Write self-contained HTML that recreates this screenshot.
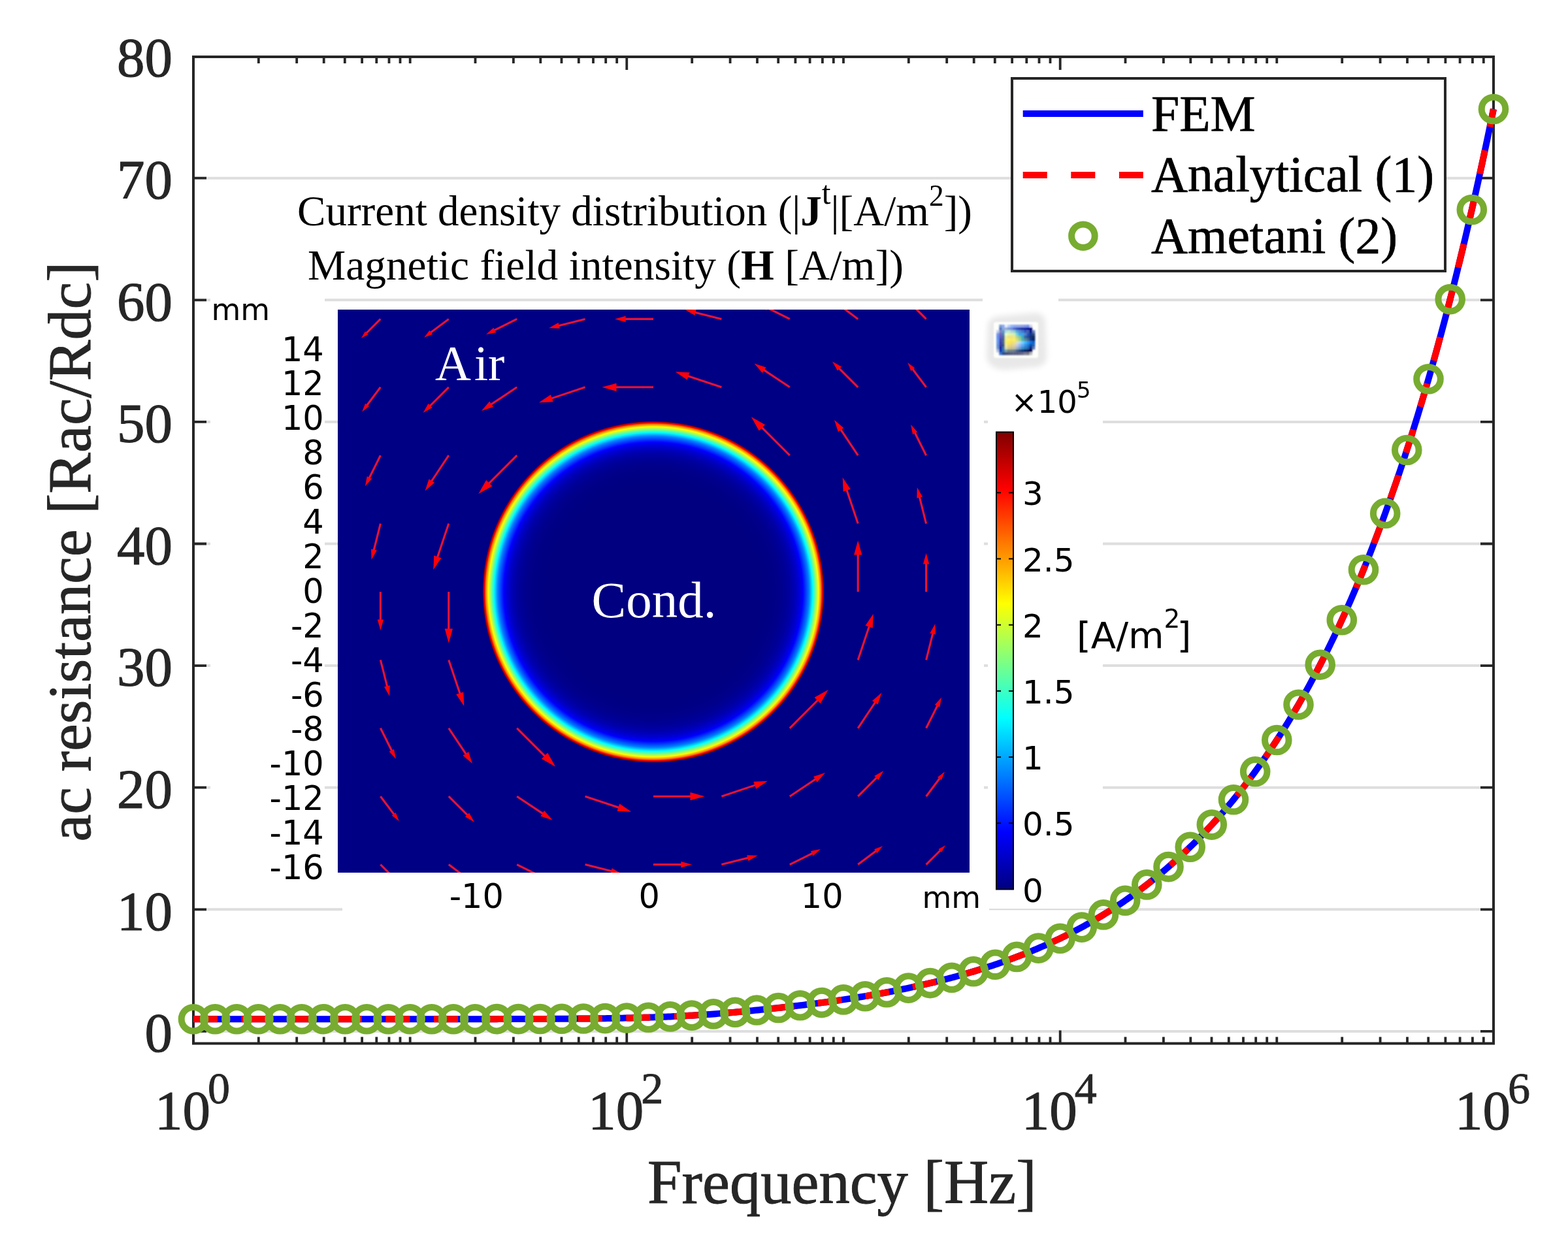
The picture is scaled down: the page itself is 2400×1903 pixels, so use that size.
<!DOCTYPE html><html><head><meta charset="utf-8"><style>html,body{margin:0;padding:0;background:#fff;}svg{display:block}</style></head><body>
<svg width="2400" height="1903" viewBox="0 0 2400 1903">
<rect width="2400" height="1903" fill="#fff"/>
<defs>
<radialGradient id="ring" cx="1000" cy="906" r="261.0" gradientUnits="userSpaceOnUse">
<stop offset="0" stop-color="#000080"/>
<stop offset="0.5421" stop-color="#000080"/>
<stop offset="0.5441" stop-color="#000080"/>
<stop offset="0.5460" stop-color="#000080"/>
<stop offset="0.5479" stop-color="#000080"/>
<stop offset="0.5498" stop-color="#000080"/>
<stop offset="0.5517" stop-color="#000080"/>
<stop offset="0.5536" stop-color="#000080"/>
<stop offset="0.5556" stop-color="#000080"/>
<stop offset="0.5575" stop-color="#000080"/>
<stop offset="0.5594" stop-color="#000080"/>
<stop offset="0.5613" stop-color="#000080"/>
<stop offset="0.5632" stop-color="#000080"/>
<stop offset="0.5651" stop-color="#000080"/>
<stop offset="0.5670" stop-color="#000080"/>
<stop offset="0.5690" stop-color="#000080"/>
<stop offset="0.5709" stop-color="#000080"/>
<stop offset="0.5728" stop-color="#000080"/>
<stop offset="0.5747" stop-color="#000080"/>
<stop offset="0.5766" stop-color="#000080"/>
<stop offset="0.5785" stop-color="#000080"/>
<stop offset="0.5805" stop-color="#000080"/>
<stop offset="0.5824" stop-color="#000080"/>
<stop offset="0.5843" stop-color="#000080"/>
<stop offset="0.5862" stop-color="#000080"/>
<stop offset="0.5881" stop-color="#000080"/>
<stop offset="0.5900" stop-color="#000080"/>
<stop offset="0.5920" stop-color="#000080"/>
<stop offset="0.5939" stop-color="#000080"/>
<stop offset="0.5958" stop-color="#000080"/>
<stop offset="0.5977" stop-color="#000080"/>
<stop offset="0.5996" stop-color="#000081"/>
<stop offset="0.6015" stop-color="#000081"/>
<stop offset="0.6034" stop-color="#000081"/>
<stop offset="0.6054" stop-color="#000081"/>
<stop offset="0.6073" stop-color="#000081"/>
<stop offset="0.6092" stop-color="#000081"/>
<stop offset="0.6111" stop-color="#000081"/>
<stop offset="0.6130" stop-color="#000081"/>
<stop offset="0.6149" stop-color="#000081"/>
<stop offset="0.6169" stop-color="#000081"/>
<stop offset="0.6188" stop-color="#000081"/>
<stop offset="0.6207" stop-color="#000081"/>
<stop offset="0.6226" stop-color="#000081"/>
<stop offset="0.6245" stop-color="#000081"/>
<stop offset="0.6264" stop-color="#000081"/>
<stop offset="0.6284" stop-color="#000081"/>
<stop offset="0.6303" stop-color="#000081"/>
<stop offset="0.6322" stop-color="#000081"/>
<stop offset="0.6341" stop-color="#000081"/>
<stop offset="0.6360" stop-color="#000081"/>
<stop offset="0.6379" stop-color="#000081"/>
<stop offset="0.6398" stop-color="#000082"/>
<stop offset="0.6418" stop-color="#000082"/>
<stop offset="0.6437" stop-color="#000082"/>
<stop offset="0.6456" stop-color="#000082"/>
<stop offset="0.6475" stop-color="#000082"/>
<stop offset="0.6494" stop-color="#000082"/>
<stop offset="0.6513" stop-color="#000082"/>
<stop offset="0.6533" stop-color="#000082"/>
<stop offset="0.6552" stop-color="#000082"/>
<stop offset="0.6571" stop-color="#000082"/>
<stop offset="0.6590" stop-color="#000082"/>
<stop offset="0.6609" stop-color="#000082"/>
<stop offset="0.6628" stop-color="#000083"/>
<stop offset="0.6648" stop-color="#000083"/>
<stop offset="0.6667" stop-color="#000083"/>
<stop offset="0.6686" stop-color="#000083"/>
<stop offset="0.6705" stop-color="#000083"/>
<stop offset="0.6724" stop-color="#000083"/>
<stop offset="0.6743" stop-color="#000083"/>
<stop offset="0.6762" stop-color="#000083"/>
<stop offset="0.6782" stop-color="#000083"/>
<stop offset="0.6801" stop-color="#000084"/>
<stop offset="0.6820" stop-color="#000084"/>
<stop offset="0.6839" stop-color="#000084"/>
<stop offset="0.6858" stop-color="#000084"/>
<stop offset="0.6877" stop-color="#000084"/>
<stop offset="0.6897" stop-color="#000084"/>
<stop offset="0.6916" stop-color="#000085"/>
<stop offset="0.6935" stop-color="#000085"/>
<stop offset="0.6954" stop-color="#000085"/>
<stop offset="0.6973" stop-color="#000085"/>
<stop offset="0.6992" stop-color="#000085"/>
<stop offset="0.7011" stop-color="#000085"/>
<stop offset="0.7031" stop-color="#000086"/>
<stop offset="0.7050" stop-color="#000086"/>
<stop offset="0.7069" stop-color="#000086"/>
<stop offset="0.7088" stop-color="#000086"/>
<stop offset="0.7107" stop-color="#000087"/>
<stop offset="0.7126" stop-color="#000087"/>
<stop offset="0.7146" stop-color="#000087"/>
<stop offset="0.7165" stop-color="#000087"/>
<stop offset="0.7184" stop-color="#000088"/>
<stop offset="0.7203" stop-color="#000088"/>
<stop offset="0.7222" stop-color="#000088"/>
<stop offset="0.7241" stop-color="#000088"/>
<stop offset="0.7261" stop-color="#000089"/>
<stop offset="0.7280" stop-color="#000089"/>
<stop offset="0.7299" stop-color="#000089"/>
<stop offset="0.7318" stop-color="#00008a"/>
<stop offset="0.7337" stop-color="#00008a"/>
<stop offset="0.7356" stop-color="#00008a"/>
<stop offset="0.7375" stop-color="#00008b"/>
<stop offset="0.7395" stop-color="#00008b"/>
<stop offset="0.7414" stop-color="#00008b"/>
<stop offset="0.7433" stop-color="#00008c"/>
<stop offset="0.7452" stop-color="#00008c"/>
<stop offset="0.7471" stop-color="#00008d"/>
<stop offset="0.7490" stop-color="#00008d"/>
<stop offset="0.7510" stop-color="#00008e"/>
<stop offset="0.7529" stop-color="#00008e"/>
<stop offset="0.7548" stop-color="#00008f"/>
<stop offset="0.7567" stop-color="#00008f"/>
<stop offset="0.7586" stop-color="#000090"/>
<stop offset="0.7605" stop-color="#000090"/>
<stop offset="0.7625" stop-color="#000091"/>
<stop offset="0.7644" stop-color="#000091"/>
<stop offset="0.7663" stop-color="#000092"/>
<stop offset="0.7682" stop-color="#000093"/>
<stop offset="0.7701" stop-color="#000093"/>
<stop offset="0.7720" stop-color="#000094"/>
<stop offset="0.7739" stop-color="#000095"/>
<stop offset="0.7759" stop-color="#000095"/>
<stop offset="0.7778" stop-color="#000096"/>
<stop offset="0.7797" stop-color="#000097"/>
<stop offset="0.7816" stop-color="#000098"/>
<stop offset="0.7835" stop-color="#000098"/>
<stop offset="0.7854" stop-color="#000099"/>
<stop offset="0.7874" stop-color="#00009a"/>
<stop offset="0.7893" stop-color="#00009b"/>
<stop offset="0.7912" stop-color="#00009c"/>
<stop offset="0.7931" stop-color="#00009d"/>
<stop offset="0.7950" stop-color="#00009e"/>
<stop offset="0.7969" stop-color="#00009f"/>
<stop offset="0.7989" stop-color="#0000a0"/>
<stop offset="0.8008" stop-color="#0000a1"/>
<stop offset="0.8027" stop-color="#0000a2"/>
<stop offset="0.8046" stop-color="#0000a3"/>
<stop offset="0.8065" stop-color="#0000a5"/>
<stop offset="0.8084" stop-color="#0000a6"/>
<stop offset="0.8103" stop-color="#0000a7"/>
<stop offset="0.8123" stop-color="#0000a9"/>
<stop offset="0.8142" stop-color="#0000aa"/>
<stop offset="0.8161" stop-color="#0000ab"/>
<stop offset="0.8180" stop-color="#0000ad"/>
<stop offset="0.8199" stop-color="#0000ae"/>
<stop offset="0.8218" stop-color="#0000b0"/>
<stop offset="0.8238" stop-color="#0000b2"/>
<stop offset="0.8257" stop-color="#0000b3"/>
<stop offset="0.8276" stop-color="#0000b5"/>
<stop offset="0.8295" stop-color="#0000b7"/>
<stop offset="0.8314" stop-color="#0000b9"/>
<stop offset="0.8333" stop-color="#0000bb"/>
<stop offset="0.8352" stop-color="#0000bd"/>
<stop offset="0.8372" stop-color="#0000bf"/>
<stop offset="0.8391" stop-color="#0000c1"/>
<stop offset="0.8410" stop-color="#0000c3"/>
<stop offset="0.8429" stop-color="#0000c5"/>
<stop offset="0.8448" stop-color="#0000c8"/>
<stop offset="0.8467" stop-color="#0000ca"/>
<stop offset="0.8487" stop-color="#0000cd"/>
<stop offset="0.8506" stop-color="#0000cf"/>
<stop offset="0.8525" stop-color="#0000d2"/>
<stop offset="0.8544" stop-color="#0000d5"/>
<stop offset="0.8563" stop-color="#0000d8"/>
<stop offset="0.8582" stop-color="#0000db"/>
<stop offset="0.8602" stop-color="#0000de"/>
<stop offset="0.8621" stop-color="#0000e1"/>
<stop offset="0.8640" stop-color="#0000e4"/>
<stop offset="0.8659" stop-color="#0000e8"/>
<stop offset="0.8678" stop-color="#0000eb"/>
<stop offset="0.8697" stop-color="#0000ef"/>
<stop offset="0.8716" stop-color="#0000f3"/>
<stop offset="0.8736" stop-color="#0000f7"/>
<stop offset="0.8755" stop-color="#0000fb"/>
<stop offset="0.8774" stop-color="#0000ff"/>
<stop offset="0.8793" stop-color="#0007ff"/>
<stop offset="0.8812" stop-color="#000dff"/>
<stop offset="0.8831" stop-color="#0014ff"/>
<stop offset="0.8851" stop-color="#001bff"/>
<stop offset="0.8870" stop-color="#0022ff"/>
<stop offset="0.8889" stop-color="#0028ff"/>
<stop offset="0.8908" stop-color="#002fff"/>
<stop offset="0.8927" stop-color="#0036ff"/>
<stop offset="0.8946" stop-color="#003cff"/>
<stop offset="0.8966" stop-color="#0043ff"/>
<stop offset="0.8985" stop-color="#004aff"/>
<stop offset="0.9004" stop-color="#0051ff"/>
<stop offset="0.9023" stop-color="#0057ff"/>
<stop offset="0.9042" stop-color="#005eff"/>
<stop offset="0.9061" stop-color="#0065ff"/>
<stop offset="0.9080" stop-color="#006bff"/>
<stop offset="0.9100" stop-color="#0072ff"/>
<stop offset="0.9119" stop-color="#0079ff"/>
<stop offset="0.9138" stop-color="#0080ff"/>
<stop offset="0.9157" stop-color="#008bff"/>
<stop offset="0.9176" stop-color="#0097ff"/>
<stop offset="0.9195" stop-color="#00a2ff"/>
<stop offset="0.9215" stop-color="#00aeff"/>
<stop offset="0.9234" stop-color="#00b9ff"/>
<stop offset="0.9253" stop-color="#00c5ff"/>
<stop offset="0.9272" stop-color="#00d1ff"/>
<stop offset="0.9291" stop-color="#00dcff"/>
<stop offset="0.9310" stop-color="#00e8ff"/>
<stop offset="0.9330" stop-color="#00f3ff"/>
<stop offset="0.9349" stop-color="#00ffff"/>
<stop offset="0.9368" stop-color="#0efff1"/>
<stop offset="0.9387" stop-color="#1dffe2"/>
<stop offset="0.9406" stop-color="#2bffd4"/>
<stop offset="0.9425" stop-color="#3affc5"/>
<stop offset="0.9444" stop-color="#48ffb7"/>
<stop offset="0.9464" stop-color="#57ffa8"/>
<stop offset="0.9483" stop-color="#65ff9a"/>
<stop offset="0.9502" stop-color="#74ff8b"/>
<stop offset="0.9521" stop-color="#82ff7d"/>
<stop offset="0.9540" stop-color="#91ff6e"/>
<stop offset="0.9559" stop-color="#9fff60"/>
<stop offset="0.9579" stop-color="#aeff51"/>
<stop offset="0.9598" stop-color="#bcff43"/>
<stop offset="0.9617" stop-color="#cbff34"/>
<stop offset="0.9636" stop-color="#d9ff26"/>
<stop offset="0.9655" stop-color="#e8ff17"/>
<stop offset="0.9674" stop-color="#f6ff09"/>
<stop offset="0.9693" stop-color="#fff800"/>
<stop offset="0.9713" stop-color="#ffe600"/>
<stop offset="0.9732" stop-color="#ffd500"/>
<stop offset="0.9751" stop-color="#ffc300"/>
<stop offset="0.9770" stop-color="#ffb100"/>
<stop offset="0.9789" stop-color="#ff9f00"/>
<stop offset="0.9808" stop-color="#ff8e00"/>
<stop offset="0.9828" stop-color="#ff7900"/>
<stop offset="0.9847" stop-color="#ff5900"/>
<stop offset="0.9866" stop-color="#ff3900"/>
<stop offset="0.9885" stop-color="#ff1a00"/>
<stop offset="0.9904" stop-color="#f90000"/>
<stop offset="0.9923" stop-color="#db0000"/>
<stop offset="0.9943" stop-color="#bc0000"/>
<stop offset="0.9962" stop-color="#9e0000"/>
<stop offset="0.9981" stop-color="#8f0000"/>
<stop offset="1.0000" stop-color="#800000"/>
</radialGradient>
<linearGradient id="cbar" x1="0" y1="1" x2="0" y2="0">
<stop offset="0.0000" stop-color="#000080"/>
<stop offset="0.0312" stop-color="#00009f"/>
<stop offset="0.0625" stop-color="#0000bf"/>
<stop offset="0.0938" stop-color="#0000df"/>
<stop offset="0.1250" stop-color="#0000ff"/>
<stop offset="0.1562" stop-color="#0020ff"/>
<stop offset="0.1875" stop-color="#0040ff"/>
<stop offset="0.2188" stop-color="#0060ff"/>
<stop offset="0.2500" stop-color="#0080ff"/>
<stop offset="0.2812" stop-color="#009fff"/>
<stop offset="0.3125" stop-color="#00bfff"/>
<stop offset="0.3438" stop-color="#00dfff"/>
<stop offset="0.3750" stop-color="#00ffff"/>
<stop offset="0.4062" stop-color="#20ffdf"/>
<stop offset="0.4375" stop-color="#40ffbf"/>
<stop offset="0.4688" stop-color="#60ff9f"/>
<stop offset="0.5000" stop-color="#80ff80"/>
<stop offset="0.5312" stop-color="#9fff60"/>
<stop offset="0.5625" stop-color="#bfff40"/>
<stop offset="0.5938" stop-color="#dfff20"/>
<stop offset="0.6250" stop-color="#ffff00"/>
<stop offset="0.6562" stop-color="#ffdf00"/>
<stop offset="0.6875" stop-color="#ffbf00"/>
<stop offset="0.7188" stop-color="#ff9f00"/>
<stop offset="0.7500" stop-color="#ff8000"/>
<stop offset="0.7812" stop-color="#ff6000"/>
<stop offset="0.8125" stop-color="#ff4000"/>
<stop offset="0.8438" stop-color="#ff2000"/>
<stop offset="0.8750" stop-color="#ff0000"/>
<stop offset="0.9062" stop-color="#df0000"/>
<stop offset="0.9375" stop-color="#bf0000"/>
<stop offset="0.9688" stop-color="#9f0000"/>
<stop offset="1.0000" stop-color="#800000"/>
</linearGradient>
<linearGradient id="logo" x1="0" y1="0" x2="1" y2="0"><stop offset="0" stop-color="#3050c8"/><stop offset="0.12" stop-color="#5a70c0"/><stop offset="0.25" stop-color="#f2e878"/><stop offset="0.45" stop-color="#f0e060"/><stop offset="0.6" stop-color="#9cd0d8"/><stop offset="0.75" stop-color="#3aa0f0"/><stop offset="0.9" stop-color="#1840a8"/><stop offset="1" stop-color="#0a1a70"/></linearGradient>
<filter id="blur1" x="-10%" y="-10%" width="120%" height="120%"><feGaussianBlur stdDeviation="0.9"/></filter>
<filter id="blur4" x="-20%" y="-20%" width="140%" height="140%"><feGaussianBlur stdDeviation="4"/></filter>
<linearGradient id="logov" x1="0" y1="0" x2="0" y2="1"><stop offset="0" stop-color="#ffffff" stop-opacity="0.25"/><stop offset="0.5" stop-color="#ffffff" stop-opacity="0"/><stop offset="1" stop-color="#000040" stop-opacity="0.35"/></linearGradient>
<clipPath id="plotclip"><rect x="517" y="474" width="967" height="862"/></clipPath>
</defs>
<line x1="296" y1="272.7" x2="2286" y2="272.7" stroke="#dedede" stroke-width="4"/>
<line x1="296" y1="459.3" x2="322" y2="459.3" stroke="#dedede" stroke-width="4"/>
<line x1="497" y1="459.3" x2="1504" y2="459.3" stroke="#dedede" stroke-width="4"/>
<line x1="1620" y1="459.3" x2="2286" y2="459.3" stroke="#dedede" stroke-width="4"/>
<line x1="296" y1="645.9" x2="322" y2="645.9" stroke="#dedede" stroke-width="4"/>
<line x1="497" y1="645.9" x2="517" y2="645.9" stroke="#dedede" stroke-width="4"/>
<line x1="1506" y1="645.9" x2="1512" y2="645.9" stroke="#dedede" stroke-width="4"/>
<line x1="1688" y1="645.9" x2="2286" y2="645.9" stroke="#dedede" stroke-width="4"/>
<line x1="296" y1="832.5" x2="322" y2="832.5" stroke="#dedede" stroke-width="4"/>
<line x1="497" y1="832.5" x2="517" y2="832.5" stroke="#dedede" stroke-width="4"/>
<line x1="1506" y1="832.5" x2="1512" y2="832.5" stroke="#dedede" stroke-width="4"/>
<line x1="1688" y1="832.5" x2="2286" y2="832.5" stroke="#dedede" stroke-width="4"/>
<line x1="296" y1="1019.1" x2="322" y2="1019.1" stroke="#dedede" stroke-width="4"/>
<line x1="497" y1="1019.1" x2="517" y2="1019.1" stroke="#dedede" stroke-width="4"/>
<line x1="1506" y1="1019.1" x2="1512" y2="1019.1" stroke="#dedede" stroke-width="4"/>
<line x1="1688" y1="1019.1" x2="2286" y2="1019.1" stroke="#dedede" stroke-width="4"/>
<line x1="296" y1="1205.7" x2="322" y2="1205.7" stroke="#dedede" stroke-width="4"/>
<line x1="497" y1="1205.7" x2="517" y2="1205.7" stroke="#dedede" stroke-width="4"/>
<line x1="1506" y1="1205.7" x2="1512" y2="1205.7" stroke="#dedede" stroke-width="4"/>
<line x1="1688" y1="1205.7" x2="2286" y2="1205.7" stroke="#dedede" stroke-width="4"/>
<line x1="296" y1="1392.3" x2="524" y2="1392.3" stroke="#dedede" stroke-width="4"/>
<line x1="1690" y1="1392.3" x2="2286" y2="1392.3" stroke="#dedede" stroke-width="4"/>
<line x1="296" y1="1578.9" x2="2286" y2="1578.9" stroke="#dedede" stroke-width="4"/>
<line x1="1514" y1="1392.3" x2="1690" y2="1392.3" stroke="#d8d8d8" stroke-width="2"/>
<rect x="517" y="474" width="967" height="862" fill="#000084"/>
<circle cx="1000" cy="906" r="261.0" fill="url(#ring)"/>
<g clip-path="url(#plotclip)">
<line x1="582.4" y1="488.4" x2="559.8" y2="511.0" stroke="#ea1232" stroke-width="3.1"/>
<polygon points="553.0,517.8 558.9,507.3 563.5,511.9" fill="#ff0008"/>
<line x1="582.4" y1="592.8" x2="560.9" y2="621.5" stroke="#ea1232" stroke-width="3.1"/>
<polygon points="554.1,630.5 559.1,617.7 565.0,622.1" fill="#ff0008"/>
<line x1="582.4" y1="697.2" x2="564.6" y2="732.9" stroke="#ea1232" stroke-width="3.1"/>
<polygon points="558.9,744.3 561.8,729.3 569.1,732.9" fill="#ff0008"/>
<line x1="582.4" y1="801.6" x2="571.9" y2="843.4" stroke="#ea1232" stroke-width="3.1"/>
<polygon points="568.6,857.0 568.1,840.4 576.7,842.6" fill="#ff0008"/>
<line x1="582.4" y1="906.0" x2="582.4" y2="950.4" stroke="#ea1232" stroke-width="3.1"/>
<polygon points="582.4,964.9 577.8,948.4 587.0,948.4" fill="#ff0008"/>
<line x1="582.4" y1="1010.4" x2="592.9" y2="1052.2" stroke="#ea1232" stroke-width="3.1"/>
<polygon points="596.2,1065.8 588.1,1051.4 596.7,1049.2" fill="#ff0008"/>
<line x1="582.4" y1="1114.8" x2="600.2" y2="1150.5" stroke="#ea1232" stroke-width="3.1"/>
<polygon points="605.9,1161.9 595.7,1150.5 603.0,1146.9" fill="#ff0008"/>
<line x1="582.4" y1="1219.2" x2="603.9" y2="1247.9" stroke="#ea1232" stroke-width="3.1"/>
<polygon points="610.7,1256.9 599.8,1248.5 605.7,1244.1" fill="#ff0008"/>
<line x1="582.4" y1="1323.6" x2="605.0" y2="1346.2" stroke="#ea1232" stroke-width="3.1"/>
<polygon points="611.8,1353.0 601.3,1347.1 605.9,1342.5" fill="#ff0008"/>
<line x1="686.8" y1="488.4" x2="658.1" y2="509.9" stroke="#ea1232" stroke-width="3.1"/>
<polygon points="649.1,516.7 657.5,505.8 661.9,511.7" fill="#ff0008"/>
<line x1="686.8" y1="592.8" x2="657.1" y2="622.5" stroke="#ea1232" stroke-width="3.1"/>
<polygon points="647.6,632.0 655.5,618.0 661.6,624.1" fill="#ff0008"/>
<line x1="686.8" y1="697.2" x2="659.6" y2="738.0" stroke="#ea1232" stroke-width="3.1"/>
<polygon points="650.6,751.5 656.5,733.5 665.0,739.1" fill="#ff0008"/>
<line x1="686.8" y1="801.6" x2="669.2" y2="854.3" stroke="#ea1232" stroke-width="3.1"/>
<polygon points="663.3,872.2 664.3,850.6 675.4,854.3" fill="#ff0008"/>
<line x1="686.8" y1="906.0" x2="686.8" y2="964.5" stroke="#ea1232" stroke-width="3.1"/>
<polygon points="686.8,984.5 680.7,962.5 692.9,962.5" fill="#ff0008"/>
<line x1="686.8" y1="1010.4" x2="704.4" y2="1063.1" stroke="#ea1232" stroke-width="3.1"/>
<polygon points="710.3,1081.0 698.2,1063.1 709.3,1059.4" fill="#ff0008"/>
<line x1="686.8" y1="1114.8" x2="714.0" y2="1155.6" stroke="#ea1232" stroke-width="3.1"/>
<polygon points="723.0,1169.1 708.6,1156.7 717.1,1151.1" fill="#ff0008"/>
<line x1="686.8" y1="1219.2" x2="716.5" y2="1248.9" stroke="#ea1232" stroke-width="3.1"/>
<polygon points="726.0,1258.4 712.0,1250.5 718.1,1244.4" fill="#ff0008"/>
<line x1="686.8" y1="1323.6" x2="715.5" y2="1345.1" stroke="#ea1232" stroke-width="3.1"/>
<polygon points="724.5,1351.9 711.7,1346.9 716.1,1341.0" fill="#ff0008"/>
<line x1="791.2" y1="488.4" x2="755.5" y2="506.2" stroke="#ea1232" stroke-width="3.1"/>
<polygon points="744.1,511.9 755.5,501.7 759.1,509.0" fill="#ff0008"/>
<line x1="791.2" y1="592.8" x2="750.4" y2="620.0" stroke="#ea1232" stroke-width="3.1"/>
<polygon points="736.9,629.0 749.3,614.6 754.9,623.1" fill="#ff0008"/>
<line x1="791.2" y1="697.2" x2="747.4" y2="741.0" stroke="#ea1232" stroke-width="3.1"/>
<polygon points="732.3,756.1 744.2,735.0 753.4,744.2" fill="#ff0008"/>
<line x1="791.2" y1="1114.8" x2="835.0" y2="1158.6" stroke="#ea1232" stroke-width="3.1"/>
<polygon points="850.1,1173.7 829.0,1161.8 838.2,1152.6" fill="#ff0008"/>
<line x1="791.2" y1="1219.2" x2="832.0" y2="1246.4" stroke="#ea1232" stroke-width="3.1"/>
<polygon points="845.5,1255.4 827.5,1249.5 833.1,1241.0" fill="#ff0008"/>
<line x1="791.2" y1="1323.6" x2="826.9" y2="1341.4" stroke="#ea1232" stroke-width="3.1"/>
<polygon points="838.3,1347.1 823.3,1344.2 826.9,1336.9" fill="#ff0008"/>
<line x1="895.6" y1="488.4" x2="853.8" y2="498.9" stroke="#ea1232" stroke-width="3.1"/>
<polygon points="840.2,502.2 854.6,494.1 856.8,502.7" fill="#ff0008"/>
<line x1="895.6" y1="592.8" x2="842.9" y2="610.4" stroke="#ea1232" stroke-width="3.1"/>
<polygon points="825.0,616.3 842.9,604.2 846.6,615.3" fill="#ff0008"/>
<line x1="895.6" y1="1219.2" x2="948.3" y2="1236.8" stroke="#ea1232" stroke-width="3.1"/>
<polygon points="966.2,1242.7 944.6,1241.7 948.3,1230.6" fill="#ff0008"/>
<line x1="895.6" y1="1323.6" x2="937.4" y2="1334.1" stroke="#ea1232" stroke-width="3.1"/>
<polygon points="951.0,1337.4 934.4,1337.9 936.6,1329.3" fill="#ff0008"/>
<line x1="1000.0" y1="488.4" x2="955.6" y2="488.4" stroke="#ea1232" stroke-width="3.1"/>
<polygon points="941.1,488.4 957.6,483.8 957.6,493.0" fill="#ff0008"/>
<line x1="1000.0" y1="592.8" x2="941.5" y2="592.8" stroke="#ea1232" stroke-width="3.1"/>
<polygon points="921.5,592.8 943.5,586.7 943.5,598.9" fill="#ff0008"/>
<line x1="1000.0" y1="1219.2" x2="1058.5" y2="1219.2" stroke="#ea1232" stroke-width="3.1"/>
<polygon points="1078.5,1219.2 1056.5,1225.3 1056.5,1213.1" fill="#ff0008"/>
<line x1="1000.0" y1="1323.6" x2="1044.4" y2="1323.6" stroke="#ea1232" stroke-width="3.1"/>
<polygon points="1058.9,1323.6 1042.4,1328.2 1042.4,1319.0" fill="#ff0008"/>
<line x1="1104.4" y1="488.4" x2="1062.6" y2="477.9" stroke="#ea1232" stroke-width="3.1"/>
<polygon points="1049.0,474.6 1065.6,474.1 1063.4,482.7" fill="#ff0008"/>
<line x1="1104.4" y1="592.8" x2="1051.7" y2="575.2" stroke="#ea1232" stroke-width="3.1"/>
<polygon points="1033.8,569.3 1055.4,570.3 1051.7,581.4" fill="#ff0008"/>
<line x1="1104.4" y1="1219.2" x2="1157.1" y2="1201.6" stroke="#ea1232" stroke-width="3.1"/>
<polygon points="1175.0,1195.7 1157.1,1207.8 1153.4,1196.7" fill="#ff0008"/>
<line x1="1104.4" y1="1323.6" x2="1146.2" y2="1313.1" stroke="#ea1232" stroke-width="3.1"/>
<polygon points="1159.8,1309.8 1145.4,1317.9 1143.2,1309.3" fill="#ff0008"/>
<line x1="1208.8" y1="488.4" x2="1173.1" y2="470.6" stroke="#ea1232" stroke-width="3.1"/>
<polygon points="1161.7,464.9 1176.7,467.8 1173.1,475.1" fill="#ff0008"/>
<line x1="1208.8" y1="592.8" x2="1168.0" y2="565.6" stroke="#ea1232" stroke-width="3.1"/>
<polygon points="1154.5,556.6 1172.5,562.5 1166.9,571.0" fill="#ff0008"/>
<line x1="1208.8" y1="697.2" x2="1165.0" y2="653.4" stroke="#ea1232" stroke-width="3.1"/>
<polygon points="1149.9,638.3 1171.0,650.2 1161.8,659.4" fill="#ff0008"/>
<line x1="1208.8" y1="1114.8" x2="1252.6" y2="1071.0" stroke="#ea1232" stroke-width="3.1"/>
<polygon points="1267.7,1055.9 1255.8,1077.0 1246.6,1067.8" fill="#ff0008"/>
<line x1="1208.8" y1="1219.2" x2="1249.6" y2="1192.0" stroke="#ea1232" stroke-width="3.1"/>
<polygon points="1263.1,1183.0 1250.7,1197.4 1245.1,1188.9" fill="#ff0008"/>
<line x1="1208.8" y1="1323.6" x2="1244.5" y2="1305.8" stroke="#ea1232" stroke-width="3.1"/>
<polygon points="1255.9,1300.1 1244.5,1310.3 1240.9,1303.0" fill="#ff0008"/>
<line x1="1313.2" y1="488.4" x2="1284.5" y2="466.9" stroke="#ea1232" stroke-width="3.1"/>
<polygon points="1275.5,460.1 1288.3,465.1 1283.9,471.0" fill="#ff0008"/>
<line x1="1313.2" y1="592.8" x2="1283.5" y2="563.1" stroke="#ea1232" stroke-width="3.1"/>
<polygon points="1274.0,553.6 1288.0,561.5 1281.9,567.6" fill="#ff0008"/>
<line x1="1313.2" y1="697.2" x2="1286.0" y2="656.4" stroke="#ea1232" stroke-width="3.1"/>
<polygon points="1277.0,642.9 1291.4,655.3 1282.9,660.9" fill="#ff0008"/>
<line x1="1313.2" y1="801.6" x2="1295.6" y2="748.9" stroke="#ea1232" stroke-width="3.1"/>
<polygon points="1289.7,731.0 1301.8,748.9 1290.7,752.6" fill="#ff0008"/>
<line x1="1313.2" y1="906.0" x2="1313.2" y2="847.5" stroke="#ea1232" stroke-width="3.1"/>
<polygon points="1313.2,827.5 1319.3,849.5 1307.1,849.5" fill="#ff0008"/>
<line x1="1313.2" y1="1010.4" x2="1330.8" y2="957.7" stroke="#ea1232" stroke-width="3.1"/>
<polygon points="1336.7,939.8 1335.7,961.4 1324.6,957.7" fill="#ff0008"/>
<line x1="1313.2" y1="1114.8" x2="1340.4" y2="1074.0" stroke="#ea1232" stroke-width="3.1"/>
<polygon points="1349.4,1060.5 1343.5,1078.5 1335.0,1072.9" fill="#ff0008"/>
<line x1="1313.2" y1="1219.2" x2="1342.9" y2="1189.5" stroke="#ea1232" stroke-width="3.1"/>
<polygon points="1352.4,1180.0 1344.5,1194.0 1338.4,1187.9" fill="#ff0008"/>
<line x1="1313.2" y1="1323.6" x2="1341.9" y2="1302.1" stroke="#ea1232" stroke-width="3.1"/>
<polygon points="1350.9,1295.3 1342.5,1306.2 1338.1,1300.3" fill="#ff0008"/>
<line x1="1417.6" y1="488.4" x2="1395.0" y2="465.8" stroke="#ea1232" stroke-width="3.1"/>
<polygon points="1388.2,459.0 1398.7,464.9 1394.1,469.5" fill="#ff0008"/>
<line x1="1417.6" y1="592.8" x2="1396.1" y2="564.1" stroke="#ea1232" stroke-width="3.1"/>
<polygon points="1389.3,555.1 1400.2,563.5 1394.3,567.9" fill="#ff0008"/>
<line x1="1417.6" y1="697.2" x2="1399.8" y2="661.5" stroke="#ea1232" stroke-width="3.1"/>
<polygon points="1394.1,650.1 1404.3,661.5 1397.0,665.1" fill="#ff0008"/>
<line x1="1417.6" y1="801.6" x2="1407.1" y2="759.8" stroke="#ea1232" stroke-width="3.1"/>
<polygon points="1403.8,746.2 1411.9,760.6 1403.3,762.8" fill="#ff0008"/>
<line x1="1417.6" y1="906.0" x2="1417.6" y2="861.6" stroke="#ea1232" stroke-width="3.1"/>
<polygon points="1417.6,847.1 1422.2,863.6 1413.0,863.6" fill="#ff0008"/>
<line x1="1417.6" y1="1010.4" x2="1428.1" y2="968.6" stroke="#ea1232" stroke-width="3.1"/>
<polygon points="1431.4,955.0 1431.9,971.6 1423.3,969.4" fill="#ff0008"/>
<line x1="1417.6" y1="1114.8" x2="1435.4" y2="1079.1" stroke="#ea1232" stroke-width="3.1"/>
<polygon points="1441.1,1067.7 1438.2,1082.7 1430.9,1079.1" fill="#ff0008"/>
<line x1="1417.6" y1="1219.2" x2="1439.1" y2="1190.5" stroke="#ea1232" stroke-width="3.1"/>
<polygon points="1445.9,1181.5 1440.9,1194.3 1435.0,1189.9" fill="#ff0008"/>
<line x1="1417.6" y1="1323.6" x2="1440.2" y2="1301.0" stroke="#ea1232" stroke-width="3.1"/>
<polygon points="1447.0,1294.2 1441.1,1304.7 1436.5,1300.1" fill="#ff0008"/>
</g>
<text x="666" y="582" font-family="Liberation Serif" font-size="76" fill="#fff">A<tspan dx="5">ir</tspan></text>
<text x="905.5" y="945.3" font-family="Liberation Serif" font-size="79" fill="#fff">Cond.</text>
<text x="495.8" y="552.5" font-family="DejaVu Sans" font-size="51" text-anchor="end" fill="#000">14</text>
<text x="495.8" y="605.4" font-family="DejaVu Sans" font-size="51" text-anchor="end" fill="#000">12</text>
<text x="495.8" y="658.3" font-family="DejaVu Sans" font-size="51" text-anchor="end" fill="#000">10</text>
<text x="495.8" y="711.2" font-family="DejaVu Sans" font-size="51" text-anchor="end" fill="#000">8</text>
<text x="495.8" y="764.1" font-family="DejaVu Sans" font-size="51" text-anchor="end" fill="#000">6</text>
<text x="495.8" y="817.0" font-family="DejaVu Sans" font-size="51" text-anchor="end" fill="#000">4</text>
<text x="495.8" y="869.9" font-family="DejaVu Sans" font-size="51" text-anchor="end" fill="#000">2</text>
<text x="495.8" y="922.8" font-family="DejaVu Sans" font-size="51" text-anchor="end" fill="#000">0</text>
<text x="495.8" y="975.7" font-family="DejaVu Sans" font-size="51" text-anchor="end" fill="#000">-2</text>
<text x="495.8" y="1028.6" font-family="DejaVu Sans" font-size="51" text-anchor="end" fill="#000">-4</text>
<text x="495.8" y="1081.5" font-family="DejaVu Sans" font-size="51" text-anchor="end" fill="#000">-6</text>
<text x="495.8" y="1134.4" font-family="DejaVu Sans" font-size="51" text-anchor="end" fill="#000">-8</text>
<text x="495.8" y="1187.3" font-family="DejaVu Sans" font-size="51" text-anchor="end" fill="#000">-10</text>
<text x="495.8" y="1240.2" font-family="DejaVu Sans" font-size="51" text-anchor="end" fill="#000">-12</text>
<text x="495.8" y="1293.1" font-family="DejaVu Sans" font-size="51" text-anchor="end" fill="#000">-14</text>
<text x="495.8" y="1346.0" font-family="DejaVu Sans" font-size="51" text-anchor="end" fill="#000">-16</text>
<text x="729.3" y="1389.8" font-family="DejaVu Sans" font-size="51" text-anchor="middle" fill="#000">-10</text>
<text x="993.8" y="1389.8" font-family="DejaVu Sans" font-size="51" text-anchor="middle" fill="#000">0</text>
<text x="1258.3" y="1389.8" font-family="DejaVu Sans" font-size="51" text-anchor="middle" fill="#000">10</text>
<text x="323.5" y="490" font-family="DejaVu Sans" font-size="46" fill="#000">mm</text>
<text x="1411.5" y="1390" font-family="DejaVu Sans" font-size="46" fill="#000">mm</text>
<rect x="1525" y="661.5" width="26" height="700" fill="url(#cbar)" stroke="#000" stroke-width="2"/>
<text x="1565" y="1380.5" font-family="DejaVu Sans" font-size="50" fill="#000">0</text>
<line x1="1526" y1="1260.3" x2="1532" y2="1260.3" stroke="#000" stroke-width="2"/>
<line x1="1544" y1="1260.3" x2="1550" y2="1260.3" stroke="#000" stroke-width="2"/>
<text x="1565" y="1279.3" font-family="DejaVu Sans" font-size="50" fill="#000">0.5</text>
<line x1="1526" y1="1159.1" x2="1532" y2="1159.1" stroke="#000" stroke-width="2"/>
<line x1="1544" y1="1159.1" x2="1550" y2="1159.1" stroke="#000" stroke-width="2"/>
<text x="1565" y="1178.1" font-family="DejaVu Sans" font-size="50" fill="#000">1</text>
<line x1="1526" y1="1057.9" x2="1532" y2="1057.9" stroke="#000" stroke-width="2"/>
<line x1="1544" y1="1057.9" x2="1550" y2="1057.9" stroke="#000" stroke-width="2"/>
<text x="1565" y="1076.9" font-family="DejaVu Sans" font-size="50" fill="#000">1.5</text>
<line x1="1526" y1="956.7" x2="1532" y2="956.7" stroke="#000" stroke-width="2"/>
<line x1="1544" y1="956.7" x2="1550" y2="956.7" stroke="#000" stroke-width="2"/>
<text x="1565" y="975.7" font-family="DejaVu Sans" font-size="50" fill="#000">2</text>
<line x1="1526" y1="855.5" x2="1532" y2="855.5" stroke="#000" stroke-width="2"/>
<line x1="1544" y1="855.5" x2="1550" y2="855.5" stroke="#000" stroke-width="2"/>
<text x="1565" y="874.5" font-family="DejaVu Sans" font-size="50" fill="#000">2.5</text>
<line x1="1526" y1="754.3" x2="1532" y2="754.3" stroke="#000" stroke-width="2"/>
<line x1="1544" y1="754.3" x2="1550" y2="754.3" stroke="#000" stroke-width="2"/>
<text x="1565" y="773.3" font-family="DejaVu Sans" font-size="50" fill="#000">3</text>
<text x="1547.5" y="632" font-family="DejaVu Sans" font-size="48" fill="#000">×10</text><text x="1648" y="608.5" font-family="DejaVu Sans" font-size="34" fill="#000">5</text>
<text x="1648" y="992" font-family="DejaVu Sans" font-size="56" fill="#000">[A/m<tspan font-size="39" dy="-31">2</tspan><tspan dy="31" dx="-5">]</tspan></text>
<path d="M1512 500 Q1512 486 1530 484 L1585 479 Q1600 480 1600 495 L1602 540 Q1604 560 1585 562 L1540 566 Q1512 566 1510 545 Z" fill="#e8e8e8" filter="url(#blur4)"/>
<rect x="1521" y="493" width="68" height="55" rx="3" fill="#fefefa" filter="url(#blur1)"/>
<g filter="url(#blur1)"><rect x="1529.31" y="497.00" width="4.51" height="4.51" fill="#7a9ad0"/><rect x="1533.52" y="497.00" width="4.51" height="4.51" fill="#8aa8f0"/><rect x="1537.73" y="497.00" width="4.51" height="4.51" fill="#e8f0ff"/><rect x="1541.94" y="497.00" width="4.51" height="4.51" fill="#b8d0ff"/><rect x="1546.15" y="497.00" width="4.51" height="4.51" fill="#90b8f8"/><rect x="1550.36" y="497.00" width="4.51" height="4.51" fill="#88a8f8"/><rect x="1554.57" y="497.00" width="4.51" height="4.51" fill="#90a8e8"/><rect x="1558.78" y="497.00" width="4.51" height="4.51" fill="#90a8e8"/><rect x="1562.99" y="497.00" width="4.51" height="4.51" fill="#90a0e8"/><rect x="1567.20" y="497.00" width="4.51" height="4.51" fill="#8098e8"/><rect x="1571.41" y="497.00" width="4.51" height="4.51" fill="#7090f0"/><rect x="1575.62" y="497.00" width="4.51" height="4.51" fill="#d0d8f0"/><rect x="1529.31" y="501.21" width="4.51" height="4.51" fill="#4070c0"/><rect x="1533.52" y="501.21" width="4.51" height="4.51" fill="#88a8d8"/><rect x="1537.73" y="501.21" width="4.51" height="4.51" fill="#98a8e0"/><rect x="1541.94" y="501.21" width="4.51" height="4.51" fill="#7898d0"/><rect x="1546.15" y="501.21" width="4.51" height="4.51" fill="#6888d8"/><rect x="1550.36" y="501.21" width="4.51" height="4.51" fill="#5060c8"/><rect x="1554.57" y="501.21" width="4.51" height="4.51" fill="#3048c0"/><rect x="1558.78" y="501.21" width="4.51" height="4.51" fill="#2038b0"/><rect x="1562.99" y="501.21" width="4.51" height="4.51" fill="#1828a0"/><rect x="1567.20" y="501.21" width="4.51" height="4.51" fill="#0818a0"/><rect x="1571.41" y="501.21" width="4.51" height="4.51" fill="#0000a0"/><rect x="1575.62" y="501.21" width="4.51" height="4.51" fill="#000080"/><rect x="1525.10" y="505.42" width="4.51" height="4.51" fill="#c0d0f0"/><rect x="1529.31" y="505.42" width="4.51" height="4.51" fill="#8080c0"/><rect x="1533.52" y="505.42" width="4.51" height="4.51" fill="#5898c8"/><rect x="1537.73" y="505.42" width="4.51" height="4.51" fill="#b0e0e0"/><rect x="1541.94" y="505.42" width="4.51" height="4.51" fill="#c0e8d0"/><rect x="1546.15" y="505.42" width="4.51" height="4.51" fill="#a8d0e0"/><rect x="1550.36" y="505.42" width="4.51" height="4.51" fill="#88d0d0"/><rect x="1554.57" y="505.42" width="4.51" height="4.51" fill="#48a8e0"/><rect x="1558.78" y="505.42" width="4.51" height="4.51" fill="#5888d0"/><rect x="1562.99" y="505.42" width="4.51" height="4.51" fill="#3878d0"/><rect x="1567.20" y="505.42" width="4.51" height="4.51" fill="#2850c8"/><rect x="1571.41" y="505.42" width="4.51" height="4.51" fill="#4060a0"/><rect x="1575.62" y="505.42" width="4.51" height="4.51" fill="#000080"/><rect x="1579.83" y="505.42" width="4.51" height="4.51" fill="#6080c0"/><rect x="1525.10" y="509.63" width="4.51" height="4.51" fill="#7098e8"/><rect x="1529.31" y="509.63" width="4.51" height="4.51" fill="#7060c0"/><rect x="1533.52" y="509.63" width="4.51" height="4.51" fill="#5080b0"/><rect x="1537.73" y="509.63" width="4.51" height="4.51" fill="#e8ffd0"/><rect x="1541.94" y="509.63" width="4.51" height="4.51" fill="#e0f8b0"/><rect x="1546.15" y="509.63" width="4.51" height="4.51" fill="#e0f0a0"/><rect x="1550.36" y="509.63" width="4.51" height="4.51" fill="#c8f0b8"/><rect x="1554.57" y="509.63" width="4.51" height="4.51" fill="#70d0d8"/><rect x="1558.78" y="509.63" width="4.51" height="4.51" fill="#38a8f0"/><rect x="1562.99" y="509.63" width="4.51" height="4.51" fill="#40a0e8"/><rect x="1567.20" y="509.63" width="4.51" height="4.51" fill="#5080c0"/><rect x="1571.41" y="509.63" width="4.51" height="4.51" fill="#2050c0"/><rect x="1575.62" y="509.63" width="4.51" height="4.51" fill="#103890"/><rect x="1579.83" y="509.63" width="4.51" height="4.51" fill="#304880"/><rect x="1525.10" y="513.84" width="4.51" height="4.51" fill="#6090f0"/><rect x="1529.31" y="513.84" width="4.51" height="4.51" fill="#6050c0"/><rect x="1533.52" y="513.84" width="4.51" height="4.51" fill="#4868a0"/><rect x="1537.73" y="513.84" width="4.51" height="4.51" fill="#e8f0a0"/><rect x="1541.94" y="513.84" width="4.51" height="4.51" fill="#f0e080"/><rect x="1546.15" y="513.84" width="4.51" height="4.51" fill="#f0e080"/><rect x="1550.36" y="513.84" width="4.51" height="4.51" fill="#e8e880"/><rect x="1554.57" y="513.84" width="4.51" height="4.51" fill="#b8d090"/><rect x="1558.78" y="513.84" width="4.51" height="4.51" fill="#78c8a0"/><rect x="1562.99" y="513.84" width="4.51" height="4.51" fill="#40a8c0"/><rect x="1567.20" y="513.84" width="4.51" height="4.51" fill="#2860b0"/><rect x="1571.41" y="513.84" width="4.51" height="4.51" fill="#204890"/><rect x="1575.62" y="513.84" width="4.51" height="4.51" fill="#183070"/><rect x="1579.83" y="513.84" width="4.51" height="4.51" fill="#102860"/><rect x="1525.10" y="518.05" width="4.51" height="4.51" fill="#6098f8"/><rect x="1529.31" y="518.05" width="4.51" height="4.51" fill="#4040b0"/><rect x="1533.52" y="518.05" width="4.51" height="4.51" fill="#406090"/><rect x="1537.73" y="518.05" width="4.51" height="4.51" fill="#f0f080"/><rect x="1541.94" y="518.05" width="4.51" height="4.51" fill="#fff060"/><rect x="1546.15" y="518.05" width="4.51" height="4.51" fill="#f8e858"/><rect x="1550.36" y="518.05" width="4.51" height="4.51" fill="#f8f060"/><rect x="1554.57" y="518.05" width="4.51" height="4.51" fill="#d8e060"/><rect x="1558.78" y="518.05" width="4.51" height="4.51" fill="#a0d080"/><rect x="1562.99" y="518.05" width="4.51" height="4.51" fill="#50b0a0"/><rect x="1567.20" y="518.05" width="4.51" height="4.51" fill="#508890"/><rect x="1571.41" y="518.05" width="4.51" height="4.51" fill="#406880"/><rect x="1575.62" y="518.05" width="4.51" height="4.51" fill="#103090"/><rect x="1579.83" y="518.05" width="4.51" height="4.51" fill="#002060"/><rect x="1525.10" y="522.26" width="4.51" height="4.51" fill="#6098f0"/><rect x="1529.31" y="522.26" width="4.51" height="4.51" fill="#3030a0"/><rect x="1533.52" y="522.26" width="4.51" height="4.51" fill="#406090"/><rect x="1537.73" y="522.26" width="4.51" height="4.51" fill="#f0f070"/><rect x="1541.94" y="522.26" width="4.51" height="4.51" fill="#ffe850"/><rect x="1546.15" y="522.26" width="4.51" height="4.51" fill="#f0e060"/><rect x="1550.36" y="522.26" width="4.51" height="4.51" fill="#e8e080"/><rect x="1554.57" y="522.26" width="4.51" height="4.51" fill="#d8e0c0"/><rect x="1558.78" y="522.26" width="4.51" height="4.51" fill="#b0d8f8"/><rect x="1562.99" y="522.26" width="4.51" height="4.51" fill="#70d0ff"/><rect x="1567.20" y="522.26" width="4.51" height="4.51" fill="#38b8ff"/><rect x="1571.41" y="522.26" width="4.51" height="4.51" fill="#2090ff"/><rect x="1575.62" y="522.26" width="4.51" height="4.51" fill="#1070e0"/><rect x="1579.83" y="522.26" width="4.51" height="4.51" fill="#0060d0"/><rect x="1525.10" y="526.47" width="4.51" height="4.51" fill="#6090e0"/><rect x="1529.31" y="526.47" width="4.51" height="4.51" fill="#3030a0"/><rect x="1533.52" y="526.47" width="4.51" height="4.51" fill="#305080"/><rect x="1537.73" y="526.47" width="4.51" height="4.51" fill="#f0e8a0"/><rect x="1541.94" y="526.47" width="4.51" height="4.51" fill="#f0d870"/><rect x="1546.15" y="526.47" width="4.51" height="4.51" fill="#e8d070"/><rect x="1550.36" y="526.47" width="4.51" height="4.51" fill="#e0d0a0"/><rect x="1554.57" y="526.47" width="4.51" height="4.51" fill="#c8c8e0"/><rect x="1558.78" y="526.47" width="4.51" height="4.51" fill="#90b8f8"/><rect x="1562.99" y="526.47" width="4.51" height="4.51" fill="#60a8f8"/><rect x="1567.20" y="526.47" width="4.51" height="4.51" fill="#3090e8"/><rect x="1571.41" y="526.47" width="4.51" height="4.51" fill="#1878d0"/><rect x="1575.62" y="526.47" width="4.51" height="4.51" fill="#0050b0"/><rect x="1579.83" y="526.47" width="4.51" height="4.51" fill="#2060b0"/><rect x="1525.10" y="530.68" width="4.51" height="4.51" fill="#7098d0"/><rect x="1529.31" y="530.68" width="4.51" height="4.51" fill="#1818a0"/><rect x="1533.52" y="530.68" width="4.51" height="4.51" fill="#3070b0"/><rect x="1537.73" y="530.68" width="4.51" height="4.51" fill="#d8e0b0"/><rect x="1541.94" y="530.68" width="4.51" height="4.51" fill="#d0c890"/><rect x="1546.15" y="530.68" width="4.51" height="4.51" fill="#c8c090"/><rect x="1550.36" y="530.68" width="4.51" height="4.51" fill="#c0c0a8"/><rect x="1554.57" y="530.68" width="4.51" height="4.51" fill="#a0b0c0"/><rect x="1558.78" y="530.68" width="4.51" height="4.51" fill="#70a0d0"/><rect x="1562.99" y="530.68" width="4.51" height="4.51" fill="#3890d0"/><rect x="1567.20" y="530.68" width="4.51" height="4.51" fill="#2878c0"/><rect x="1571.41" y="530.68" width="4.51" height="4.51" fill="#2060b0"/><rect x="1575.62" y="530.68" width="4.51" height="4.51" fill="#001870"/><rect x="1579.83" y="530.68" width="4.51" height="4.51" fill="#6078b0"/><rect x="1525.10" y="534.89" width="4.51" height="4.51" fill="#b0c0e0"/><rect x="1529.31" y="534.89" width="4.51" height="4.51" fill="#0030b0"/><rect x="1533.52" y="534.89" width="4.51" height="4.51" fill="#3070b0"/><rect x="1537.73" y="534.89" width="4.51" height="4.51" fill="#80a0a0"/><rect x="1541.94" y="534.89" width="4.51" height="4.51" fill="#708080"/><rect x="1546.15" y="534.89" width="4.51" height="4.51" fill="#708080"/><rect x="1550.36" y="534.89" width="4.51" height="4.51" fill="#687888"/><rect x="1554.57" y="534.89" width="4.51" height="4.51" fill="#406090"/><rect x="1558.78" y="534.89" width="4.51" height="4.51" fill="#204880"/><rect x="1562.99" y="534.89" width="4.51" height="4.51" fill="#103070"/><rect x="1567.20" y="534.89" width="4.51" height="4.51" fill="#001860"/><rect x="1571.41" y="534.89" width="4.51" height="4.51" fill="#000850"/><rect x="1575.62" y="534.89" width="4.51" height="4.51" fill="#000040"/><rect x="1529.31" y="539.10" width="4.51" height="4.51" fill="#3070c8"/><rect x="1533.52" y="539.10" width="4.51" height="4.51" fill="#284888"/><rect x="1537.73" y="539.10" width="4.51" height="4.51" fill="#404878"/><rect x="1541.94" y="539.10" width="4.51" height="4.51" fill="#485078"/><rect x="1546.15" y="539.10" width="4.51" height="4.51" fill="#505880"/><rect x="1550.36" y="539.10" width="4.51" height="4.51" fill="#585880"/><rect x="1554.57" y="539.10" width="4.51" height="4.51" fill="#585880"/><rect x="1558.78" y="539.10" width="4.51" height="4.51" fill="#606080"/><rect x="1562.99" y="539.10" width="4.51" height="4.51" fill="#686888"/><rect x="1567.20" y="539.10" width="4.51" height="4.51" fill="#787890"/><rect x="1571.41" y="539.10" width="4.51" height="4.51" fill="#707080"/><rect x="1575.62" y="539.10" width="4.51" height="4.51" fill="#b8b8c0"/></g>
<text x="455" y="345.4" font-family="Liberation Serif" font-size="66" fill="#000" textLength="1033" lengthAdjust="spacingAndGlyphs">Current density distribution (|<tspan font-weight="bold">J</tspan><tspan font-size="50" dy="-33">t</tspan><tspan dy="33">|[A/m</tspan><tspan font-size="46" dy="-30">2</tspan><tspan dy="30">])</tspan></text>
<text x="471" y="427.7" font-family="Liberation Serif" font-size="66" fill="#000" textLength="912" lengthAdjust="spacingAndGlyphs">Magnetic field intensity (<tspan font-weight="bold">H</tspan> [A/m])</text>
<rect x="296" y="87" width="1990" height="1510.5" fill="none" stroke="#262626" stroke-width="4"/>
<path d="M296 1578.9h20M2286 1578.9h-20M296 1392.3h20M2286 1392.3h-20M296 1205.7h20M2286 1205.7h-20M296 1019.1h20M2286 1019.1h-20M296 832.5h20M2286 832.5h-20M296 645.9h20M2286 645.9h-20M296 459.3h20M2286 459.3h-20M296 272.7h20M2286 272.7h-20M296.0 1597.5v-20M296.0 87v20M395.8 1597.5v-10M395.8 87v10M454.2 1597.5v-10M454.2 87v10M495.7 1597.5v-10M495.7 87v10M527.8 1597.5v-10M527.8 87v10M554.1 1597.5v-10M554.1 87v10M576.3 1597.5v-10M576.3 87v10M595.5 1597.5v-10M595.5 87v10M612.5 1597.5v-10M612.5 87v10M627.7 1597.5v-10M627.7 87v10M727.5 1597.5v-10M727.5 87v10M785.9 1597.5v-10M785.9 87v10M827.3 1597.5v-10M827.3 87v10M859.5 1597.5v-10M859.5 87v10M885.8 1597.5v-10M885.8 87v10M908.0 1597.5v-10M908.0 87v10M927.2 1597.5v-10M927.2 87v10M944.2 1597.5v-10M944.2 87v10M959.3 1597.5v-20M959.3 87v20M1059.2 1597.5v-10M1059.2 87v10M1117.6 1597.5v-10M1117.6 87v10M1159.0 1597.5v-10M1159.0 87v10M1191.2 1597.5v-10M1191.2 87v10M1217.4 1597.5v-10M1217.4 87v10M1239.6 1597.5v-10M1239.6 87v10M1258.9 1597.5v-10M1258.9 87v10M1275.8 1597.5v-10M1275.8 87v10M1291.0 1597.5v-10M1291.0 87v10M1390.8 1597.5v-10M1390.8 87v10M1449.2 1597.5v-10M1449.2 87v10M1490.7 1597.5v-10M1490.7 87v10M1522.8 1597.5v-10M1522.8 87v10M1549.1 1597.5v-10M1549.1 87v10M1571.3 1597.5v-10M1571.3 87v10M1590.5 1597.5v-10M1590.5 87v10M1607.5 1597.5v-10M1607.5 87v10M1622.7 1597.5v-20M1622.7 87v20M1722.5 1597.5v-10M1722.5 87v10M1780.9 1597.5v-10M1780.9 87v10M1822.3 1597.5v-10M1822.3 87v10M1854.5 1597.5v-10M1854.5 87v10M1880.8 1597.5v-10M1880.8 87v10M1903.0 1597.5v-10M1903.0 87v10M1922.2 1597.5v-10M1922.2 87v10M1939.2 1597.5v-10M1939.2 87v10M1954.3 1597.5v-10M1954.3 87v10M2054.2 1597.5v-10M2054.2 87v10M2112.6 1597.5v-10M2112.6 87v10M2154.0 1597.5v-10M2154.0 87v10M2186.2 1597.5v-10M2186.2 87v10M2212.4 1597.5v-10M2212.4 87v10M2234.6 1597.5v-10M2234.6 87v10M2253.9 1597.5v-10M2253.9 87v10M2270.8 1597.5v-10M2270.8 87v10M2286.0 1597.5v-20M2286.0 87v20" stroke="#262626" stroke-width="3.8" fill="none"/>
<polyline points="296.00,1560.24 299.32,1560.24 302.63,1560.24 305.95,1560.24 309.27,1560.24 312.58,1560.24 315.90,1560.24 319.22,1560.24 322.53,1560.24 325.85,1560.24 329.17,1560.24 332.48,1560.24 335.80,1560.24 339.12,1560.24 342.43,1560.24 345.75,1560.24 349.07,1560.24 352.38,1560.24 355.70,1560.24 359.02,1560.24 362.33,1560.24 365.65,1560.24 368.97,1560.24 372.28,1560.24 375.60,1560.24 378.92,1560.24 382.23,1560.24 385.55,1560.24 388.87,1560.24 392.18,1560.24 395.50,1560.24 398.82,1560.24 402.13,1560.24 405.45,1560.24 408.77,1560.24 412.08,1560.24 415.40,1560.24 418.72,1560.24 422.03,1560.24 425.35,1560.24 428.67,1560.24 431.98,1560.24 435.30,1560.24 438.62,1560.24 441.93,1560.24 445.25,1560.24 448.57,1560.24 451.88,1560.24 455.20,1560.24 458.52,1560.24 461.83,1560.24 465.15,1560.24 468.47,1560.24 471.78,1560.24 475.10,1560.24 478.42,1560.24 481.73,1560.24 485.05,1560.24 488.37,1560.24 491.68,1560.24 495.00,1560.24 498.32,1560.24 501.63,1560.24 504.95,1560.24 508.27,1560.24 511.58,1560.24 514.90,1560.24 518.22,1560.24 521.53,1560.24 524.85,1560.24 528.17,1560.24 531.48,1560.24 534.80,1560.23 538.12,1560.23 541.43,1560.23 544.75,1560.23 548.07,1560.23 551.38,1560.23 554.70,1560.23 558.02,1560.23 561.33,1560.23 564.65,1560.23 567.97,1560.23 571.28,1560.23 574.60,1560.23 577.92,1560.23 581.23,1560.23 584.55,1560.23 587.87,1560.23 591.18,1560.23 594.50,1560.23 597.82,1560.23 601.13,1560.23 604.45,1560.23 607.77,1560.23 611.08,1560.23 614.40,1560.22 617.72,1560.22 621.03,1560.22 624.35,1560.22 627.67,1560.22 630.98,1560.22 634.30,1560.22 637.62,1560.22 640.93,1560.22 644.25,1560.22 647.57,1560.22 650.88,1560.21 654.20,1560.21 657.52,1560.21 660.83,1560.21 664.15,1560.21 667.47,1560.21 670.78,1560.21 674.10,1560.21 677.42,1560.20 680.73,1560.20 684.05,1560.20 687.37,1560.20 690.68,1560.20 694.00,1560.19 697.32,1560.19 700.63,1560.19 703.95,1560.19 707.27,1560.18 710.58,1560.18 713.90,1560.18 717.22,1560.18 720.53,1560.17 723.85,1560.17 727.17,1560.17 730.48,1560.16 733.80,1560.16 737.12,1560.16 740.43,1560.15 743.75,1560.15 747.07,1560.14 750.38,1560.14 753.70,1560.14 757.02,1560.13 760.33,1560.13 763.65,1560.12 766.97,1560.11 770.28,1560.11 773.60,1560.10 776.92,1560.10 780.23,1560.09 783.55,1560.08 786.87,1560.07 790.18,1560.07 793.50,1560.06 796.82,1560.05 800.13,1560.04 803.45,1560.03 806.77,1560.02 810.08,1560.01 813.40,1560.00 816.72,1559.99 820.03,1559.98 823.35,1559.97 826.67,1559.95 829.98,1559.94 833.30,1559.93 836.62,1559.91 839.93,1559.90 843.25,1559.88 846.57,1559.86 849.88,1559.85 853.20,1559.83 856.52,1559.81 859.83,1559.79 863.15,1559.77 866.47,1559.75 869.78,1559.72 873.10,1559.70 876.42,1559.68 879.73,1559.65 883.05,1559.62 886.37,1559.59 889.68,1559.56 893.00,1559.53 896.32,1559.50 899.63,1559.47 902.95,1559.43 906.27,1559.40 909.58,1559.36 912.90,1559.32 916.22,1559.28 919.53,1559.23 922.85,1559.19 926.17,1559.14 929.48,1559.09 932.80,1559.04 936.12,1558.99 939.43,1558.93 942.75,1558.87 946.07,1558.81 949.38,1558.75 952.70,1558.68 956.02,1558.61 959.33,1558.54 962.65,1558.47 965.97,1558.39 969.28,1558.31 972.60,1558.23 975.92,1558.14 979.23,1558.05 982.55,1557.96 985.87,1557.86 989.18,1557.76 992.50,1557.66 995.82,1557.55 999.13,1557.44 1002.45,1557.32 1005.77,1557.20 1009.08,1557.08 1012.40,1556.95 1015.72,1556.81 1019.03,1556.68 1022.35,1556.53 1025.67,1556.39 1028.98,1556.24 1032.30,1556.08 1035.62,1555.92 1038.93,1555.75 1042.25,1555.58 1045.57,1555.40 1048.88,1555.22 1052.20,1555.04 1055.52,1554.85 1058.83,1554.65 1062.15,1554.45 1065.47,1554.24 1068.78,1554.03 1072.10,1553.81 1075.42,1553.59 1078.73,1553.36 1082.05,1553.12 1085.37,1552.89 1088.68,1552.64 1092.00,1552.39 1095.32,1552.14 1098.63,1551.88 1101.95,1551.62 1105.27,1551.35 1108.58,1551.08 1111.90,1550.80 1115.22,1550.52 1118.53,1550.24 1121.85,1549.95 1125.17,1549.65 1128.48,1549.35 1131.80,1549.05 1135.12,1548.75 1138.43,1548.44 1141.75,1548.12 1145.07,1547.81 1148.38,1547.49 1151.70,1547.16 1155.02,1546.84 1158.33,1546.51 1161.65,1546.17 1164.97,1545.84 1168.28,1545.50 1171.60,1545.15 1174.92,1544.81 1178.23,1544.46 1181.55,1544.11 1184.87,1543.75 1188.18,1543.40 1191.50,1543.03 1194.82,1542.67 1198.13,1542.30 1201.45,1541.93 1204.77,1541.56 1208.08,1541.18 1211.40,1540.80 1214.72,1540.42 1218.03,1540.03 1221.35,1539.64 1224.67,1539.25 1227.98,1538.85 1231.30,1538.45 1234.62,1538.04 1237.93,1537.63 1241.25,1537.22 1244.57,1536.80 1247.88,1536.38 1251.20,1535.95 1254.52,1535.52 1257.83,1535.08 1261.15,1534.63 1264.47,1534.19 1267.78,1533.73 1271.10,1533.28 1274.42,1532.81 1277.73,1532.34 1281.05,1531.87 1284.37,1531.39 1287.68,1530.90 1291.00,1530.41 1294.32,1529.91 1297.63,1529.41 1300.95,1528.90 1304.27,1528.38 1307.58,1527.86 1310.90,1527.33 1314.22,1526.80 1317.53,1526.26 1320.85,1525.71 1324.17,1525.15 1327.48,1524.59 1330.80,1524.03 1334.12,1523.45 1337.43,1522.87 1340.75,1522.28 1344.07,1521.69 1347.38,1521.09 1350.70,1520.48 1354.02,1519.86 1357.33,1519.24 1360.65,1518.61 1363.97,1517.97 1367.28,1517.32 1370.60,1516.67 1373.92,1516.01 1377.23,1515.34 1380.55,1514.67 1383.87,1513.98 1387.18,1513.29 1390.50,1512.59 1393.82,1511.88 1397.13,1511.17 1400.45,1510.44 1403.77,1509.71 1407.08,1508.97 1410.40,1508.22 1413.72,1507.46 1417.03,1506.69 1420.35,1505.91 1423.67,1505.13 1426.98,1504.33 1430.30,1503.53 1433.62,1502.71 1436.93,1501.89 1440.25,1501.06 1443.57,1500.22 1446.88,1499.36 1450.20,1498.50 1453.52,1497.63 1456.83,1496.75 1460.15,1495.86 1463.47,1494.95 1466.78,1494.04 1470.10,1493.12 1473.42,1492.18 1476.73,1491.24 1480.05,1490.28 1483.37,1489.31 1486.68,1488.33 1490.00,1487.34 1493.32,1486.34 1496.63,1485.33 1499.95,1484.30 1503.27,1483.26 1506.58,1482.21 1509.90,1481.15 1513.22,1480.08 1516.53,1478.99 1519.85,1477.89 1523.17,1476.78 1526.48,1475.66 1529.80,1474.52 1533.12,1473.37 1536.43,1472.20 1539.75,1471.03 1543.07,1469.83 1546.38,1468.63 1549.70,1467.41 1553.02,1466.18 1556.33,1464.93 1559.65,1463.67 1562.97,1462.39 1566.28,1461.10 1569.60,1459.79 1572.92,1458.47 1576.23,1457.13 1579.55,1455.78 1582.87,1454.41 1586.18,1453.03 1589.50,1451.62 1592.82,1450.21 1596.13,1448.78 1599.45,1447.33 1602.77,1445.86 1606.08,1444.38 1609.40,1442.87 1612.72,1441.36 1616.03,1439.82 1619.35,1438.27 1622.67,1436.69 1625.98,1435.07 1629.30,1433.43 1632.62,1431.78 1635.93,1430.10 1639.25,1428.40 1642.57,1426.68 1645.88,1424.94 1649.20,1423.18 1652.52,1421.40 1655.83,1419.60 1659.15,1417.78 1662.47,1415.93 1665.78,1414.07 1669.10,1412.18 1672.42,1410.27 1675.73,1408.34 1679.05,1406.38 1682.37,1404.40 1685.68,1402.40 1689.00,1400.37 1692.32,1398.32 1695.63,1396.25 1698.95,1394.15 1702.27,1392.03 1705.58,1389.88 1708.90,1387.71 1712.22,1385.51 1715.53,1383.28 1718.85,1381.03 1722.17,1378.75 1725.48,1376.45 1728.80,1374.11 1732.12,1371.76 1735.43,1369.37 1738.75,1366.95 1742.07,1364.51 1745.38,1362.03 1748.70,1359.53 1752.02,1357.00 1755.33,1354.44 1758.65,1351.85 1761.97,1349.22 1765.28,1346.57 1768.60,1343.88 1771.92,1341.17 1775.23,1338.42 1778.55,1335.64 1781.87,1332.82 1785.18,1329.98 1788.50,1327.10 1791.82,1324.21 1795.13,1321.30 1798.45,1318.35 1801.77,1315.37 1805.08,1312.35 1808.40,1309.29 1811.72,1306.21 1815.03,1303.08 1818.35,1299.92 1821.67,1296.72 1824.98,1293.48 1828.30,1290.21 1831.62,1286.90 1834.93,1283.55 1838.25,1280.16 1841.57,1276.73 1844.88,1273.26 1848.20,1269.75 1851.52,1266.20 1854.83,1262.60 1858.15,1258.97 1861.47,1255.29 1864.78,1251.57 1868.10,1247.81 1871.42,1244.00 1874.73,1240.15 1878.05,1236.26 1881.37,1232.32 1884.68,1228.33 1888.00,1224.29 1891.32,1220.21 1894.63,1216.08 1897.95,1211.91 1901.27,1207.68 1904.58,1203.41 1907.90,1199.08 1911.22,1194.71 1914.53,1190.28 1917.85,1185.80 1921.17,1181.27 1924.48,1176.69 1927.80,1172.05 1931.12,1167.36 1934.43,1162.61 1937.75,1157.81 1941.07,1152.96 1944.38,1148.04 1947.70,1143.07 1951.02,1138.04 1954.33,1132.96 1957.65,1127.80 1960.97,1122.59 1964.28,1117.32 1967.60,1111.99 1970.92,1106.59 1974.23,1101.13 1977.55,1095.61 1980.87,1090.02 1984.18,1084.37 1987.50,1078.65 1990.82,1072.87 1994.13,1067.01 1997.45,1061.09 2000.77,1055.10 2004.08,1049.04 2007.40,1042.91 2010.72,1036.71 2014.03,1030.43 2017.35,1024.09 2020.67,1017.66 2023.98,1011.17 2027.30,1004.59 2030.62,997.94 2033.93,991.22 2037.25,984.41 2040.57,977.52 2043.88,970.56 2047.20,963.51 2050.52,956.38 2053.83,949.17 2057.15,941.87 2060.47,934.49 2063.78,927.02 2067.10,919.47 2070.42,911.82 2073.73,904.09 2077.05,896.27 2080.37,888.35 2083.68,880.35 2087.00,872.24 2090.32,864.05 2093.63,855.76 2096.95,847.37 2100.27,838.89 2103.58,830.30 2106.90,821.62 2110.22,812.83 2113.53,803.94 2116.85,794.95 2120.17,785.85 2123.48,776.66 2126.80,767.37 2130.12,757.96 2133.43,748.45 2136.75,738.83 2140.07,729.09 2143.38,719.24 2146.70,709.27 2150.02,699.19 2153.33,688.99 2156.65,678.68 2159.97,668.24 2163.28,657.68 2166.60,647.00 2169.92,636.19 2173.23,625.26 2176.55,614.20 2179.87,603.01 2183.18,591.69 2186.50,580.24 2189.82,568.65 2193.13,556.93 2196.45,545.07 2199.77,533.08 2203.08,520.94 2206.40,508.67 2209.72,496.25 2213.03,483.68 2216.35,470.97 2219.67,458.11 2222.98,445.11 2226.30,431.95 2229.62,418.63 2232.93,405.16 2236.25,391.54 2239.57,377.75 2242.88,363.81 2246.20,349.70 2249.52,335.43 2252.83,320.99 2256.15,306.38 2259.47,291.61 2262.78,276.66 2266.10,261.53 2269.42,246.23 2272.73,230.76 2276.05,215.10 2279.37,199.26 2282.68,183.23 2286.00,167.02" fill="none" stroke="#0000ff" stroke-width="10" stroke-linejoin="round"/>
<polyline points="296.00,1560.24 299.32,1560.24 302.63,1560.24 305.95,1560.24 309.27,1560.24 312.58,1560.24 315.90,1560.24 319.22,1560.24 322.53,1560.24 325.85,1560.24 329.17,1560.24 332.48,1560.24 335.80,1560.24 339.12,1560.24 342.43,1560.24 345.75,1560.24 349.07,1560.24 352.38,1560.24 355.70,1560.24 359.02,1560.24 362.33,1560.24 365.65,1560.24 368.97,1560.24 372.28,1560.24 375.60,1560.24 378.92,1560.24 382.23,1560.24 385.55,1560.24 388.87,1560.24 392.18,1560.24 395.50,1560.24 398.82,1560.24 402.13,1560.24 405.45,1560.24 408.77,1560.24 412.08,1560.24 415.40,1560.24 418.72,1560.24 422.03,1560.24 425.35,1560.24 428.67,1560.24 431.98,1560.24 435.30,1560.24 438.62,1560.24 441.93,1560.24 445.25,1560.24 448.57,1560.24 451.88,1560.24 455.20,1560.24 458.52,1560.24 461.83,1560.24 465.15,1560.24 468.47,1560.24 471.78,1560.24 475.10,1560.24 478.42,1560.24 481.73,1560.24 485.05,1560.24 488.37,1560.24 491.68,1560.24 495.00,1560.24 498.32,1560.24 501.63,1560.24 504.95,1560.24 508.27,1560.24 511.58,1560.24 514.90,1560.24 518.22,1560.24 521.53,1560.24 524.85,1560.24 528.17,1560.24 531.48,1560.24 534.80,1560.23 538.12,1560.23 541.43,1560.23 544.75,1560.23 548.07,1560.23 551.38,1560.23 554.70,1560.23 558.02,1560.23 561.33,1560.23 564.65,1560.23 567.97,1560.23 571.28,1560.23 574.60,1560.23 577.92,1560.23 581.23,1560.23 584.55,1560.23 587.87,1560.23 591.18,1560.23 594.50,1560.23 597.82,1560.23 601.13,1560.23 604.45,1560.23 607.77,1560.23 611.08,1560.23 614.40,1560.22 617.72,1560.22 621.03,1560.22 624.35,1560.22 627.67,1560.22 630.98,1560.22 634.30,1560.22 637.62,1560.22 640.93,1560.22 644.25,1560.22 647.57,1560.22 650.88,1560.21 654.20,1560.21 657.52,1560.21 660.83,1560.21 664.15,1560.21 667.47,1560.21 670.78,1560.21 674.10,1560.21 677.42,1560.20 680.73,1560.20 684.05,1560.20 687.37,1560.20 690.68,1560.20 694.00,1560.19 697.32,1560.19 700.63,1560.19 703.95,1560.19 707.27,1560.18 710.58,1560.18 713.90,1560.18 717.22,1560.18 720.53,1560.17 723.85,1560.17 727.17,1560.17 730.48,1560.16 733.80,1560.16 737.12,1560.16 740.43,1560.15 743.75,1560.15 747.07,1560.14 750.38,1560.14 753.70,1560.14 757.02,1560.13 760.33,1560.13 763.65,1560.12 766.97,1560.11 770.28,1560.11 773.60,1560.10 776.92,1560.10 780.23,1560.09 783.55,1560.08 786.87,1560.07 790.18,1560.07 793.50,1560.06 796.82,1560.05 800.13,1560.04 803.45,1560.03 806.77,1560.02 810.08,1560.01 813.40,1560.00 816.72,1559.99 820.03,1559.98 823.35,1559.97 826.67,1559.95 829.98,1559.94 833.30,1559.93 836.62,1559.91 839.93,1559.90 843.25,1559.88 846.57,1559.86 849.88,1559.85 853.20,1559.83 856.52,1559.81 859.83,1559.79 863.15,1559.77 866.47,1559.75 869.78,1559.72 873.10,1559.70 876.42,1559.68 879.73,1559.65 883.05,1559.62 886.37,1559.59 889.68,1559.56 893.00,1559.53 896.32,1559.50 899.63,1559.47 902.95,1559.43 906.27,1559.40 909.58,1559.36 912.90,1559.32 916.22,1559.28 919.53,1559.23 922.85,1559.19 926.17,1559.14 929.48,1559.09 932.80,1559.04 936.12,1558.99 939.43,1558.93 942.75,1558.87 946.07,1558.81 949.38,1558.75 952.70,1558.68 956.02,1558.61 959.33,1558.54 962.65,1558.47 965.97,1558.39 969.28,1558.31 972.60,1558.23 975.92,1558.14 979.23,1558.05 982.55,1557.96 985.87,1557.86 989.18,1557.76 992.50,1557.66 995.82,1557.55 999.13,1557.44 1002.45,1557.32 1005.77,1557.20 1009.08,1557.08 1012.40,1556.95 1015.72,1556.81 1019.03,1556.68 1022.35,1556.53 1025.67,1556.39 1028.98,1556.24 1032.30,1556.08 1035.62,1555.92 1038.93,1555.75 1042.25,1555.58 1045.57,1555.40 1048.88,1555.22 1052.20,1555.04 1055.52,1554.85 1058.83,1554.65 1062.15,1554.45 1065.47,1554.24 1068.78,1554.03 1072.10,1553.81 1075.42,1553.59 1078.73,1553.36 1082.05,1553.12 1085.37,1552.89 1088.68,1552.64 1092.00,1552.39 1095.32,1552.14 1098.63,1551.88 1101.95,1551.62 1105.27,1551.35 1108.58,1551.08 1111.90,1550.80 1115.22,1550.52 1118.53,1550.24 1121.85,1549.95 1125.17,1549.65 1128.48,1549.35 1131.80,1549.05 1135.12,1548.75 1138.43,1548.44 1141.75,1548.12 1145.07,1547.81 1148.38,1547.49 1151.70,1547.16 1155.02,1546.84 1158.33,1546.51 1161.65,1546.17 1164.97,1545.84 1168.28,1545.50 1171.60,1545.15 1174.92,1544.81 1178.23,1544.46 1181.55,1544.11 1184.87,1543.75 1188.18,1543.40 1191.50,1543.03 1194.82,1542.67 1198.13,1542.30 1201.45,1541.93 1204.77,1541.56 1208.08,1541.18 1211.40,1540.80 1214.72,1540.42 1218.03,1540.03 1221.35,1539.64 1224.67,1539.25 1227.98,1538.85 1231.30,1538.45 1234.62,1538.04 1237.93,1537.63 1241.25,1537.22 1244.57,1536.80 1247.88,1536.38 1251.20,1535.95 1254.52,1535.52 1257.83,1535.08 1261.15,1534.63 1264.47,1534.19 1267.78,1533.73 1271.10,1533.28 1274.42,1532.81 1277.73,1532.34 1281.05,1531.87 1284.37,1531.39 1287.68,1530.90 1291.00,1530.41 1294.32,1529.91 1297.63,1529.41 1300.95,1528.90 1304.27,1528.38 1307.58,1527.86 1310.90,1527.33 1314.22,1526.80 1317.53,1526.26 1320.85,1525.71 1324.17,1525.15 1327.48,1524.59 1330.80,1524.03 1334.12,1523.45 1337.43,1522.87 1340.75,1522.28 1344.07,1521.69 1347.38,1521.09 1350.70,1520.48 1354.02,1519.86 1357.33,1519.24 1360.65,1518.61 1363.97,1517.97 1367.28,1517.32 1370.60,1516.67 1373.92,1516.01 1377.23,1515.34 1380.55,1514.67 1383.87,1513.98 1387.18,1513.29 1390.50,1512.59 1393.82,1511.88 1397.13,1511.17 1400.45,1510.44 1403.77,1509.71 1407.08,1508.97 1410.40,1508.22 1413.72,1507.46 1417.03,1506.69 1420.35,1505.91 1423.67,1505.13 1426.98,1504.33 1430.30,1503.53 1433.62,1502.71 1436.93,1501.89 1440.25,1501.06 1443.57,1500.22 1446.88,1499.36 1450.20,1498.50 1453.52,1497.63 1456.83,1496.75 1460.15,1495.86 1463.47,1494.95 1466.78,1494.04 1470.10,1493.12 1473.42,1492.18 1476.73,1491.24 1480.05,1490.28 1483.37,1489.31 1486.68,1488.33 1490.00,1487.34 1493.32,1486.34 1496.63,1485.33 1499.95,1484.30 1503.27,1483.26 1506.58,1482.21 1509.90,1481.15 1513.22,1480.08 1516.53,1478.99 1519.85,1477.89 1523.17,1476.78 1526.48,1475.66 1529.80,1474.52 1533.12,1473.37 1536.43,1472.20 1539.75,1471.03 1543.07,1469.83 1546.38,1468.63 1549.70,1467.41 1553.02,1466.18 1556.33,1464.93 1559.65,1463.67 1562.97,1462.39 1566.28,1461.10 1569.60,1459.79 1572.92,1458.47 1576.23,1457.13 1579.55,1455.78 1582.87,1454.41 1586.18,1453.03 1589.50,1451.62 1592.82,1450.21 1596.13,1448.78 1599.45,1447.33 1602.77,1445.86 1606.08,1444.38 1609.40,1442.87 1612.72,1441.36 1616.03,1439.82 1619.35,1438.27 1622.67,1436.69 1625.98,1435.07 1629.30,1433.43 1632.62,1431.78 1635.93,1430.10 1639.25,1428.40 1642.57,1426.68 1645.88,1424.94 1649.20,1423.18 1652.52,1421.40 1655.83,1419.60 1659.15,1417.78 1662.47,1415.93 1665.78,1414.07 1669.10,1412.18 1672.42,1410.27 1675.73,1408.34 1679.05,1406.38 1682.37,1404.40 1685.68,1402.40 1689.00,1400.37 1692.32,1398.32 1695.63,1396.25 1698.95,1394.15 1702.27,1392.03 1705.58,1389.88 1708.90,1387.71 1712.22,1385.51 1715.53,1383.28 1718.85,1381.03 1722.17,1378.75 1725.48,1376.45 1728.80,1374.11 1732.12,1371.76 1735.43,1369.37 1738.75,1366.95 1742.07,1364.51 1745.38,1362.03 1748.70,1359.53 1752.02,1357.00 1755.33,1354.44 1758.65,1351.85 1761.97,1349.22 1765.28,1346.57 1768.60,1343.88 1771.92,1341.17 1775.23,1338.42 1778.55,1335.64 1781.87,1332.82 1785.18,1329.98 1788.50,1327.10 1791.82,1324.21 1795.13,1321.30 1798.45,1318.35 1801.77,1315.37 1805.08,1312.35 1808.40,1309.29 1811.72,1306.21 1815.03,1303.08 1818.35,1299.92 1821.67,1296.72 1824.98,1293.48 1828.30,1290.21 1831.62,1286.90 1834.93,1283.55 1838.25,1280.16 1841.57,1276.73 1844.88,1273.26 1848.20,1269.75 1851.52,1266.20 1854.83,1262.60 1858.15,1258.97 1861.47,1255.29 1864.78,1251.57 1868.10,1247.81 1871.42,1244.00 1874.73,1240.15 1878.05,1236.26 1881.37,1232.32 1884.68,1228.33 1888.00,1224.29 1891.32,1220.21 1894.63,1216.08 1897.95,1211.91 1901.27,1207.68 1904.58,1203.41 1907.90,1199.08 1911.22,1194.71 1914.53,1190.28 1917.85,1185.80 1921.17,1181.27 1924.48,1176.69 1927.80,1172.05 1931.12,1167.36 1934.43,1162.61 1937.75,1157.81 1941.07,1152.96 1944.38,1148.04 1947.70,1143.07 1951.02,1138.04 1954.33,1132.96 1957.65,1127.80 1960.97,1122.59 1964.28,1117.32 1967.60,1111.99 1970.92,1106.59 1974.23,1101.13 1977.55,1095.61 1980.87,1090.02 1984.18,1084.37 1987.50,1078.65 1990.82,1072.87 1994.13,1067.01 1997.45,1061.09 2000.77,1055.10 2004.08,1049.04 2007.40,1042.91 2010.72,1036.71 2014.03,1030.43 2017.35,1024.09 2020.67,1017.66 2023.98,1011.17 2027.30,1004.59 2030.62,997.94 2033.93,991.22 2037.25,984.41 2040.57,977.52 2043.88,970.56 2047.20,963.51 2050.52,956.38 2053.83,949.17 2057.15,941.87 2060.47,934.49 2063.78,927.02 2067.10,919.47 2070.42,911.82 2073.73,904.09 2077.05,896.27 2080.37,888.35 2083.68,880.35 2087.00,872.24 2090.32,864.05 2093.63,855.76 2096.95,847.37 2100.27,838.89 2103.58,830.30 2106.90,821.62 2110.22,812.83 2113.53,803.94 2116.85,794.95 2120.17,785.85 2123.48,776.66 2126.80,767.37 2130.12,757.96 2133.43,748.45 2136.75,738.83 2140.07,729.09 2143.38,719.24 2146.70,709.27 2150.02,699.19 2153.33,688.99 2156.65,678.68 2159.97,668.24 2163.28,657.68 2166.60,647.00 2169.92,636.19 2173.23,625.26 2176.55,614.20 2179.87,603.01 2183.18,591.69 2186.50,580.24 2189.82,568.65 2193.13,556.93 2196.45,545.07 2199.77,533.08 2203.08,520.94 2206.40,508.67 2209.72,496.25 2213.03,483.68 2216.35,470.97 2219.67,458.11 2222.98,445.11 2226.30,431.95 2229.62,418.63 2232.93,405.16 2236.25,391.54 2239.57,377.75 2242.88,363.81 2246.20,349.70 2249.52,335.43 2252.83,320.99 2256.15,306.38 2259.47,291.61 2262.78,276.66 2266.10,261.53 2269.42,246.23 2272.73,230.76 2276.05,215.10 2279.37,199.26 2282.68,183.23 2286.00,167.02" fill="none" stroke="#ff0000" stroke-width="10" stroke-dasharray="37 36.6"/>
<g fill="none" stroke="#77ac30" stroke-width="10"><circle cx="296.0" cy="1560.2" r="18.3"/><circle cx="329.2" cy="1560.2" r="18.3"/><circle cx="362.3" cy="1560.2" r="18.3"/><circle cx="395.5" cy="1560.2" r="18.3"/><circle cx="428.7" cy="1560.2" r="18.3"/><circle cx="461.8" cy="1560.2" r="18.3"/><circle cx="495.0" cy="1560.2" r="18.3"/><circle cx="528.2" cy="1560.2" r="18.3"/><circle cx="561.3" cy="1560.2" r="18.3"/><circle cx="594.5" cy="1560.2" r="18.3"/><circle cx="627.7" cy="1560.2" r="18.3"/><circle cx="660.8" cy="1560.2" r="18.3"/><circle cx="694.0" cy="1560.2" r="18.3"/><circle cx="727.2" cy="1560.2" r="18.3"/><circle cx="760.3" cy="1560.1" r="18.3"/><circle cx="793.5" cy="1560.1" r="18.3"/><circle cx="826.7" cy="1560.0" r="18.3"/><circle cx="859.8" cy="1559.8" r="18.3"/><circle cx="893.0" cy="1559.5" r="18.3"/><circle cx="926.2" cy="1559.1" r="18.3"/><circle cx="959.3" cy="1558.5" r="18.3"/><circle cx="992.5" cy="1557.7" r="18.3"/><circle cx="1025.7" cy="1556.4" r="18.3"/><circle cx="1058.8" cy="1554.6" r="18.3"/><circle cx="1092.0" cy="1552.4" r="18.3"/><circle cx="1125.2" cy="1549.7" r="18.3"/><circle cx="1158.3" cy="1546.5" r="18.3"/><circle cx="1191.5" cy="1543.0" r="18.3"/><circle cx="1224.7" cy="1539.2" r="18.3"/><circle cx="1257.8" cy="1535.1" r="18.3"/><circle cx="1291.0" cy="1530.4" r="18.3"/><circle cx="1324.2" cy="1525.2" r="18.3"/><circle cx="1357.3" cy="1519.2" r="18.3"/><circle cx="1390.5" cy="1512.6" r="18.3"/><circle cx="1423.7" cy="1505.1" r="18.3"/><circle cx="1456.8" cy="1496.7" r="18.3"/><circle cx="1490.0" cy="1487.3" r="18.3"/><circle cx="1523.2" cy="1476.8" r="18.3"/><circle cx="1556.3" cy="1464.9" r="18.3"/><circle cx="1589.5" cy="1451.6" r="18.3"/><circle cx="1622.7" cy="1436.7" r="18.3"/><circle cx="1655.8" cy="1419.6" r="18.3"/><circle cx="1689.0" cy="1400.4" r="18.3"/><circle cx="1722.2" cy="1378.8" r="18.3"/><circle cx="1755.3" cy="1354.4" r="18.3"/><circle cx="1788.5" cy="1327.1" r="18.3"/><circle cx="1821.7" cy="1296.7" r="18.3"/><circle cx="1854.8" cy="1262.6" r="18.3"/><circle cx="1888.0" cy="1224.3" r="18.3"/><circle cx="1921.2" cy="1181.3" r="18.3"/><circle cx="1954.3" cy="1133.0" r="18.3"/><circle cx="1987.5" cy="1078.7" r="18.3"/><circle cx="2020.7" cy="1017.7" r="18.3"/><circle cx="2053.8" cy="949.2" r="18.3"/><circle cx="2087.0" cy="872.2" r="18.3"/><circle cx="2120.2" cy="785.9" r="18.3"/><circle cx="2153.3" cy="689.0" r="18.3"/><circle cx="2186.5" cy="580.2" r="18.3"/><circle cx="2219.7" cy="458.1" r="18.3"/><circle cx="2252.8" cy="321.0" r="18.3"/><circle cx="2286.0" cy="167.0" r="18.3"/></g>
<rect x="1549" y="120" width="663" height="295" fill="#fff" stroke="#262626" stroke-width="4"/>
<line x1="1565.7" y1="173.9" x2="1749.8" y2="173.9" stroke="#0000ff" stroke-width="10"/>
<line x1="1565.7" y1="267.9" x2="1749.8" y2="267.9" stroke="#ff0000" stroke-width="10" stroke-dasharray="37 36.6"/>
<circle cx="1657.9" cy="361.2" r="17.8" fill="none" stroke="#77ac30" stroke-width="10"/>
<text x="1762" y="199.5" font-family="Liberation Serif" font-size="77.6" fill="#000" stroke="#000" stroke-width="0.7">FEM</text>
<text x="1762" y="293" font-family="Liberation Serif" font-size="77.6" fill="#000" stroke="#000" stroke-width="0.7">Analytical (1)</text>
<text x="1762" y="386.6" font-family="Liberation Serif" font-size="77.6" fill="#000" stroke="#000" stroke-width="0.7">Ametani (2)</text>
<text x="264" y="1610.2" font-family="Liberation Serif" font-size="85" fill="#262626" stroke="#262626" stroke-width="1.1" text-anchor="end">0</text>
<text x="264" y="1423.6" font-family="Liberation Serif" font-size="85" fill="#262626" stroke="#262626" stroke-width="1.1" text-anchor="end">10</text>
<text x="264" y="1237.0" font-family="Liberation Serif" font-size="85" fill="#262626" stroke="#262626" stroke-width="1.1" text-anchor="end">20</text>
<text x="264" y="1050.4" font-family="Liberation Serif" font-size="85" fill="#262626" stroke="#262626" stroke-width="1.1" text-anchor="end">30</text>
<text x="264" y="863.8" font-family="Liberation Serif" font-size="85" fill="#262626" stroke="#262626" stroke-width="1.1" text-anchor="end">40</text>
<text x="264" y="677.2" font-family="Liberation Serif" font-size="85" fill="#262626" stroke="#262626" stroke-width="1.1" text-anchor="end">50</text>
<text x="264" y="490.6" font-family="Liberation Serif" font-size="85" fill="#262626" stroke="#262626" stroke-width="1.1" text-anchor="end">60</text>
<text x="264" y="304.0" font-family="Liberation Serif" font-size="85" fill="#262626" stroke="#262626" stroke-width="1.1" text-anchor="end">70</text>
<text x="264" y="117.4" font-family="Liberation Serif" font-size="85" fill="#262626" stroke="#262626" stroke-width="1.1" text-anchor="end">80</text>
<text x="237.0" y="1729.4" font-family="Liberation Serif" font-size="85" fill="#262626" stroke="#262626" stroke-width="1.1">10</text><text x="318.0" y="1688.5" font-family="Liberation Serif" font-size="68" fill="#262626" stroke="#262626" stroke-width="0.9">0</text>
<text x="900.3" y="1729.4" font-family="Liberation Serif" font-size="85" fill="#262626" stroke="#262626" stroke-width="1.1">10</text><text x="981.3" y="1688.5" font-family="Liberation Serif" font-size="68" fill="#262626" stroke="#262626" stroke-width="0.9">2</text>
<text x="1563.7" y="1729.4" font-family="Liberation Serif" font-size="85" fill="#262626" stroke="#262626" stroke-width="1.1">10</text><text x="1644.7" y="1688.5" font-family="Liberation Serif" font-size="68" fill="#262626" stroke="#262626" stroke-width="0.9">4</text>
<text x="2227.0" y="1729.4" font-family="Liberation Serif" font-size="85" fill="#262626" stroke="#262626" stroke-width="1.1">10</text><text x="2308.0" y="1688.5" font-family="Liberation Serif" font-size="68" fill="#262626" stroke="#262626" stroke-width="0.9">6</text>
<text x="991" y="1842.3" font-family="Liberation Serif" font-size="94.5" fill="#262626" stroke="#262626" stroke-width="0.9">Frequency [Hz]</text>
<text transform="translate(138,1288.5) rotate(-90)" font-family="Liberation Serif" font-size="94.1" fill="#262626" stroke="#262626" stroke-width="0.9">ac resistance [Rac/Rdc]</text>
</svg></body></html>
